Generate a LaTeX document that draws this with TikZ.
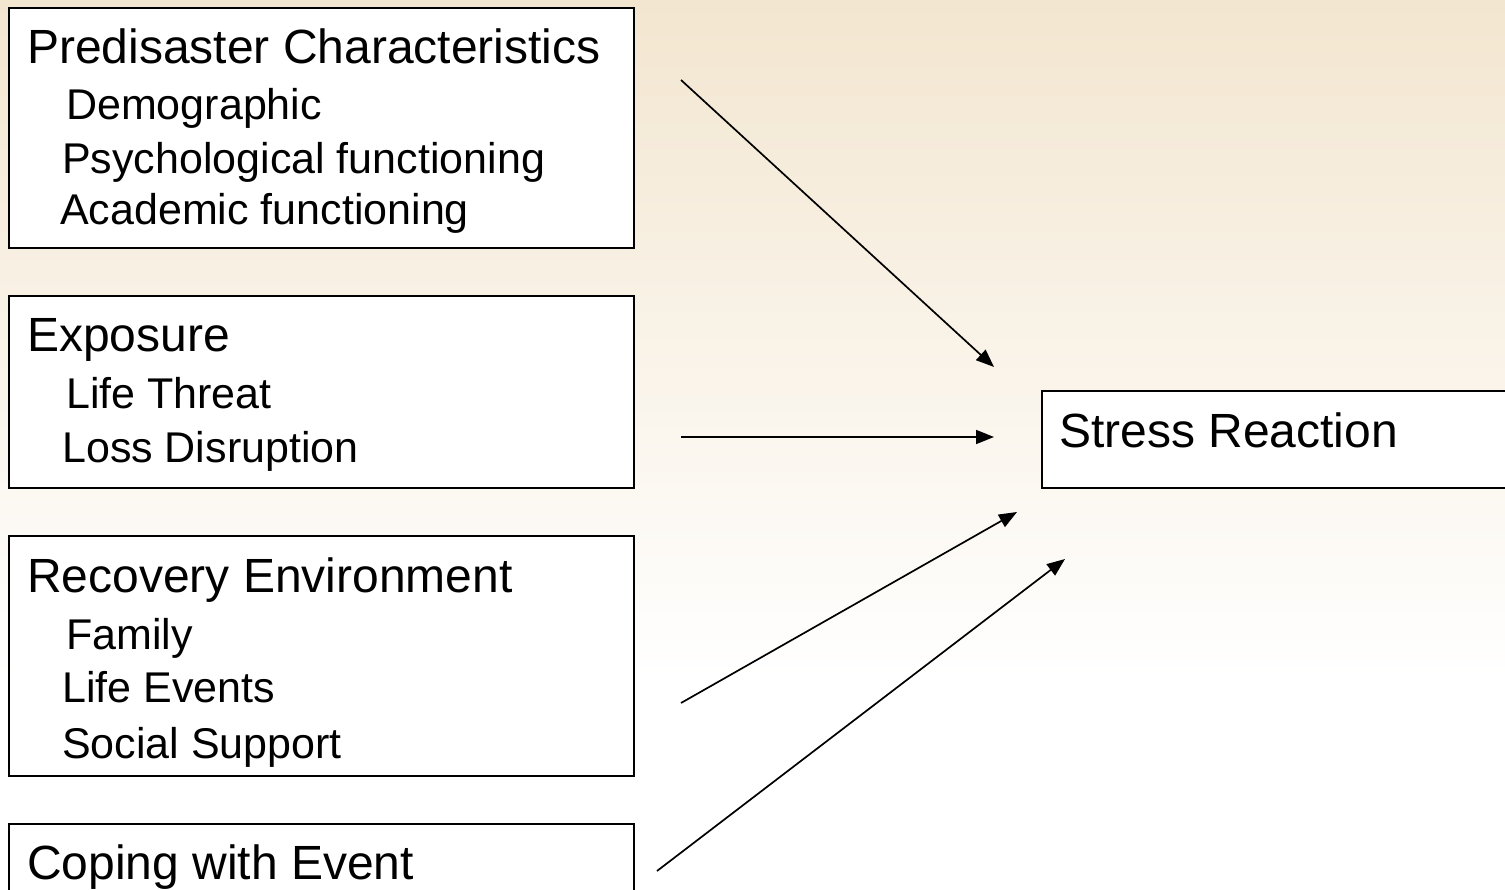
\documentclass[tikz,border=0pt]{standalone}
\usepackage{fontspec}
\setmainfont{Liberation Sans}
\usetikzlibrary{arrows.meta}
\definecolor{bgtop}{RGB}{243,230,208}
\tikzset{
  boxshape/.style={draw=black, line width=1.8pt, fill=white, rectangle, anchor=north west, inner sep=0pt},
  titletext/.style={anchor=base west, inner sep=0pt, font=\fontsize{48}{57}\selectfont},
  subtext/.style={anchor=base west, inner sep=0pt, font=\fontsize{43}{52}\selectfont},
  arr/.style={line width=1.7pt, -{Triangle[length=18pt,width=14pt]}}
}
\begin{document}
\begin{tikzpicture}[x=1pt,y=-1pt]
\useasboundingbox (0,0) rectangle (1505,890);
\clip (0,0) rectangle (1505,890);
\shade[top color=bgtop, bottom color=white] (0,0) rectangle (1505,680);
\fill[white] (0,679) rectangle (1505,890);

% boxes
\node[boxshape, minimum width=625pt, minimum height=240pt] (b1) at (8,7) {};
\node[boxshape, minimum width=625pt, minimum height=192pt] (b2) at (8,295) {};
\node[boxshape, minimum width=625pt, minimum height=240pt] (b3) at (8,535) {};
\node[boxshape, minimum width=625pt, minimum height=120pt] (b4) at (8,823) {};
\node[boxshape, minimum width=520pt, minimum height=97pt] (sr) at (1041,390) {};

% texts
\node[titletext] (t1) at (27,64) {Predisaster Characteristics};
\node[subtext] (t1a) at (66,120) {Demographic};
\node[subtext] (t1b) at (62,174) {Psychological functioning};
\node[subtext] (t1c) at (60,225) {Academic functioning};

\node[titletext] (t2) at (27,352) {Exposure};
\node[subtext] (t2a) at (66,409) {Life Threat};
\node[subtext] (t2b) at (62,462) {Loss Disruption};

\node[titletext] (t3) at (27,592) {Recovery Environment};
\node[subtext] (t3a) at (66,649) {Family};
\node[subtext] (t3b) at (62,702) {Life Events};
\node[subtext] (t3c) at (62,758) {Social Support};

\node[titletext] (t4) at (27,879) {Coping with Event};

\node[titletext] (t5) at (1059,447) {Stress Reaction};

% arrow end points
\coordinate (a1s) at (681,80);
\coordinate (a1e) at (994,367);
\coordinate (a2s) at (681,437);
\coordinate (a2e) at (994,437);
\coordinate (a3s) at (681,703);
\coordinate (a3e) at (1017,512);
\coordinate (a4s) at (657,871);
\coordinate (a4e) at (1065,559);

\draw[arr] (a1s) -- (a1e);
\draw[arr] (a2s) -- (a2e);
\draw[arr] (a3s) -- (a3e);
\draw[arr] (a4s) -- (a4e);
\end{tikzpicture}
\end{document}
